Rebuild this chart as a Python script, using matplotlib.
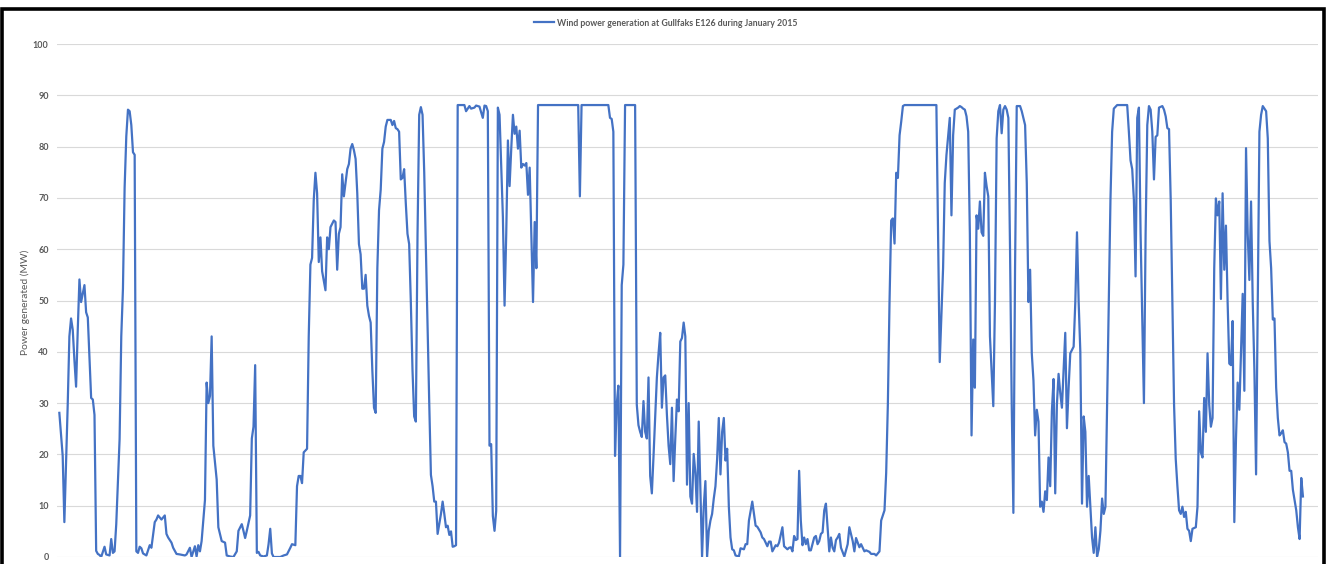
import matplotlib
matplotlib.use("Agg")
import matplotlib.pyplot as plt
from matplotlib.patches import Rectangle

# hour of January 2015 (0 = 1 Jan 00:00) and generated power (MW)
hours = [
    0, 2, 3, 5, 6, 7, 8, 9, 10, 11,
    12, 13, 15, 16, 17, 19, 20, 21, 22, 23,
    24, 25, 27, 28, 30, 31, 32, 33, 34, 36,
    37, 38, 39, 40, 41, 42, 43, 44, 45, 46,
    47, 48, 49, 50, 52, 54, 55, 57, 58, 59,
    61, 63, 64, 65, 67, 68, 70, 72, 75, 76,
    78, 79, 81, 82, 83, 84, 85, 87, 88, 89,
    90, 91, 92, 94, 95, 97, 99, 100, 102, 104,
    106, 107, 109, 110, 111, 112, 114, 115, 116, 117,
    118, 119, 120, 122, 124, 125, 126, 127, 128, 132,
    134, 136, 138, 139, 141, 142, 143, 144, 145, 146,
    148, 149, 150, 151, 152, 153, 154, 155, 156, 157,
    159, 160, 161, 162, 164, 165, 166, 167, 168, 169,
    170, 172, 173, 174, 175, 176, 177, 178, 179, 180,
    181, 182, 183, 184, 185, 186, 187, 188, 189, 190,
    191, 192, 193, 194, 195, 196, 198, 199, 200, 201,
    202, 203, 204, 205, 206, 207, 208, 209, 210, 211,
    212, 213, 214, 215, 216, 217, 218, 219, 220, 221,
    222, 223, 224, 225, 226, 228, 229, 230, 231, 232,
    233, 234, 235, 236, 237, 238, 242, 243, 245, 246,
    248, 249, 251, 253, 254, 255, 256, 257, 258, 259,
    260, 261, 262, 263, 265, 266, 267, 268, 269, 270,
    271, 272, 273, 274, 275, 276, 277, 278, 279, 280,
    281, 282, 283, 284, 285, 286, 310, 311, 312, 328,
    329, 330, 331, 332, 333, 334, 335, 336, 337, 338,
    344, 345, 346, 347, 348, 349, 350, 351, 352, 353,
    354, 355, 357, 358, 359, 360, 361, 362, 363, 364,
    365, 366, 367, 368, 369, 370, 371, 372, 373, 374,
    375, 376, 377, 378, 379, 380, 381, 382, 383, 384,
    385, 386, 387, 388, 389, 390, 391, 392, 393, 394,
    395, 396, 397, 398, 399, 400, 401, 402, 403, 404,
    406, 407, 409, 410, 411, 412, 414, 415, 416, 417,
    419, 420, 421, 423, 424, 425, 426, 428, 429, 430,
    432, 433, 435, 436, 437, 438, 439, 440, 441, 442,
    443, 444, 445, 446, 447, 448, 449, 451, 452, 453,
    454, 455, 456, 457, 458, 459, 460, 461, 462, 463,
    464, 465, 466, 467, 469, 471, 472, 474, 475, 476,
    477, 478, 479, 481, 482, 484, 485, 487, 488, 490,
    491, 493, 494, 495, 496, 497, 498, 499, 500, 501,
    502, 503, 504, 505, 524, 525, 526, 528, 529, 530,
    532, 533, 534, 535, 537, 538, 539, 540, 541, 542,
    543, 544, 545, 546, 547, 548, 549, 550, 551, 552,
    553, 554, 555, 556, 557, 558, 559, 560, 561, 562,
    563, 564, 565, 566, 567, 568, 569, 570, 571, 572,
    574, 575, 577, 578, 579, 580, 581, 582, 583, 584,
    585, 586, 587, 588, 589, 590, 591, 592, 593, 594,
    595, 596, 597, 598, 599, 600, 601, 602, 603, 604,
    606, 607, 608, 609, 610, 611, 612, 613, 614, 615,
    616, 617, 618, 619, 620, 621, 622, 623, 624, 625,
    626, 627, 628, 629, 630, 632, 638, 639, 640, 641,
    642, 643, 644, 645, 646, 647, 648, 649, 650, 651,
    652, 653, 654, 655, 656, 657, 659, 660, 661, 662,
    663, 664, 665, 666, 667, 668, 669, 670, 671, 672,
    673, 674, 675, 676, 677, 679, 680, 681, 682, 683,
    684, 685, 686, 687, 688, 689, 690, 691, 692, 693,
    694, 695, 696, 697, 698, 699, 700, 701, 702, 703,
    704, 705, 706, 707, 708, 709, 710, 711, 712, 713,
    714, 715, 716, 717, 718, 719, 721, 722, 723, 724,
    725, 726, 727, 728, 729, 730, 731, 732, 733, 734,
    735, 736, 737, 739, 740, 741, 742, 743,
]

power_mw = [
    28.1, 19.7, 6.8, 29.7, 43, 46.5, 44.3, 38.4, 33.2, 44.3,
    54.1, 49.7, 53, 47.7, 46.7, 31, 30.7, 27.7, 1.2, 0.6,
    0.4, 0, 2, 0.5, 0.3, 3.5, 0.8, 1.1, 6.4, 23,
    43, 52.3, 72, 82, 87.2, 86.9, 84.2, 78.9, 78.4, 1.1,
    0.8, 2, 1.7, 0.7, 0.3, 2.3, 1.8, 6.8, 7.3, 8.1,
    7.3, 8.1, 4.5, 3.8, 2.8, 1.8, 0.6, 0.5, 0.3, 0.5,
    1.8, 0, 2.1, 0.1, 2.3, 1.1, 3.1, 11.1, 34, 30,
    31.4, 43, 21.7, 15.1, 5.8, 3.1, 2.8, 0.3, 0.1, 0,
    1.1, 5.1, 6.4, 5.1, 3.7, 5.1, 8.1, 23.1, 25.4, 37.4,
    0.8, 1, 0.3, 0.1, 0.3, 2.5, 5.5, 0.7, 0, 0,
    0.3, 0.5, 1.8, 2.5, 2.3, 13.8, 15.8, 15.8, 14.4, 20.4,
    21.1, 43, 57, 58.3, 69.6, 74.9, 70.9, 57.5, 62.3, 55.7,
    52, 62.3, 60, 64.3, 65.6, 65.3, 56, 63, 64.3, 74.6,
    70.3, 75.6, 76.6, 79.6, 80.5, 79.3, 77.6, 70.9, 61, 59,
    52.3, 52.3, 55, 49, 47, 45.7, 36.4, 29.1, 28.1, 56.3,
    67.6, 71.6, 79.6, 80.9, 83.9, 85.2, 85.2, 84.2, 85, 83.6,
    83.4, 82.9, 73.6, 73.9, 75.6, 68.9, 63, 61, 49.7, 36.4,
    27.4, 26.4, 63, 86.2, 87.7, 86.2, 75, 60, 45, 30,
    16, 13.8, 10.8, 10.8, 4.5, 8.4, 10.8, 8.4, 5.8, 6.1,
    4.3, 5, 2, 2.1, 2.3, 88.1, 88.1, 86.9, 87.9, 87.4,
    87.6, 88, 87.8, 85.6, 88, 87.9, 86.9, 21.7, 22, 8,
    5.1, 9, 87.6, 86.2, 66.3, 49, 63, 81.2, 72.3, 79.6,
    86.2, 82.5, 83.9, 79.6, 83.1, 75.9, 76.6, 76.3, 76.8, 70.6,
    75.9, 63, 49.7, 65.3, 56.3, 88.1, 88.1, 70.3, 88.1, 88.1,
    85.6, 85.4, 82.9, 19.7, 29.7, 33.4, 0, 53, 57, 88.1,
    88.1, 29.7, 25.7, 24.4, 23.4, 30.4, 24.4, 23.1, 35, 15.8,
    12.4, 19.7, 35, 39.7, 43.7, 29.1, 35, 35.4, 27.7, 21.7,
    18.1, 29.1, 14.8, 23.1, 30.7, 28.4, 42, 42.7, 45.7, 43,
    14.1, 30, 11.8, 10.4, 20.1, 16.4, 8.8, 26.4, 13.1, 0,
    9.8, 14.8, 0, 5.1, 7.1, 8.4, 11.4, 13.8, 19.1, 27.1,
    16.1, 24.4, 27.1, 18.8, 21.1, 9.8, 3.8, 1.5, 1.3, 0.3,
    0.1, 1.7, 1.5, 2.5, 2.5, 7.1, 10.8, 8.4, 6.1, 5.9,
    4.8, 3.8, 3.5, 2.1, 3, 3, 1.1, 2.3, 2.1, 2.8,
    5.8, 2.1, 1.5, 1.8, 1.9, 1.1, 4.1, 3.3, 3.5, 16.8,
    7.1, 2.3, 3.8, 2.5, 3.5, 1.3, 1.3, 3.8, 4.1, 2.5,
    3.1, 4.5, 4.8, 9.1, 10.4, 5.8, 1.1, 3.8, 1.8, 1.1,
    3.3, 3.8, 4.5, 1.8, 0.1, 2.5, 5.8, 3.1, 1.1, 3.7,
    2.8, 1.9, 2.5, 1.1, 1.3, 1, 0.6, 0.6, 0.3, 1.1,
    7.1, 9.1, 16.4, 29.7, 49.7, 65.6, 66, 61.1, 74.9, 73.9,
    82.2, 84.9, 87.9, 88.1, 88.1, 63, 38, 56.3, 72.9, 78.3,
    85.6, 66.6, 82.2, 87.2, 87.6, 87.9, 87.7, 87.4, 87.2, 85.9,
    82.9, 63, 23.7, 42.4, 33, 66.6, 64, 69.3, 63.3, 62.6,
    74.9, 72.3, 70.3, 43, 36.4, 29.4, 49.7, 81.6, 86.9, 88.1,
    82.6, 87.2, 87.9, 87.2, 85.6, 60, 30, 8.6, 56.3, 87.9,
    87.9, 86.9, 84.2, 72.9, 49.7, 56, 39.7, 34.4, 23.7, 28.7,
    26.4, 9.8, 10.8, 8.8, 12.8, 11.1, 19.4, 13.8, 28.4, 34.7,
    12.4, 29.7, 35.7, 32, 29.1, 36.4, 43.7, 25.1, 33, 39.7,
    41, 49.7, 63.3, 49.7, 40, 10.4, 27.4, 24.4, 9.8, 15.8,
    9.8, 3.8, 0.8, 5.8, 0.1, 1.5, 5.1, 11.4, 8.4, 9.8,
    29.7, 49.7, 69.6, 82.9, 87.4, 88.1, 88.1, 82.9, 77.3, 75.6,
    69.6, 54.7, 85.6, 87.6, 63, 46.3, 30, 63, 84.2, 87.9,
    87.2, 82.9, 73.6, 81.9, 82.2, 87.6, 87.9, 87.2, 85.9, 83.6,
    83.4, 69.6, 49.7, 29.7, 19.1, 13.8, 9.1, 8.4, 9.8, 7.8,
    8.8, 5.5, 5.1, 3.1, 5.5, 5.8, 9.8, 28.4, 20.4, 19.4,
    31, 24.4, 39.7, 29.7, 25.4, 27.1, 56.3, 69.9, 66.6, 69.3,
    50.3, 70.9, 56, 64.6, 49.7, 37.7, 37.4, 46, 6.8, 23.1,
    34, 28.7, 39.7, 51.3, 32.4, 79.7, 63, 54, 69.3, 49.7,
    36.4, 16.1, 49.7, 82.9, 86.2, 87.9, 86.9, 81.6, 61.6, 56.3,
    46.3, 46.5, 33, 27.1, 23.7, 24.1, 24.7, 22.4, 22.1, 20.4,
    16.8, 16.8, 13.1, 9.1, 5.8, 3.5, 15.4, 11.8,
]

series_label = "Wind power generation at Gullfaks E126 during January 2015"
y_label = "Power generated (MW)"
y_ticks = [0, 10, 20, 30, 40, 50, 60, 70, 80, 90, 100]

plt.rcParams["font.family"] = ["Lato", "DejaVu Sans"]
text_grey = "#595959"

fig = plt.figure(figsize=(13.26, 5.64), dpi=100)
ax = fig.add_axes([57 / 1326, 7 / 564, 1261 / 1326, 513 / 564])

line, = ax.plot(hours, power_mw, color="#4472C4", linewidth=1.6,
                solid_joinstyle="round", label=series_label, zorder=3)

ax.set_ylim(0, 100)
ax.set_xlim(-1.4, 752)
ax.set_yticks(y_ticks)
ax.set_xticks([])
ax.yaxis.grid(True, color="#D9D9D9", linewidth=0.8)
ax.set_axisbelow(True)
for s in ax.spines.values():
    s.set_visible(False)
ax.tick_params(axis="y", length=0, pad=6, labelsize=6.5, labelcolor=text_grey)
for t in ax.get_yticklabels():
    t.set_fontweight("bold")
ax.set_ylabel(y_label, fontsize=7.4, color=text_grey)
ax.yaxis.set_label_coords(-0.0214, 0.497)

fig.legend(handles=[line], loc="center", bbox_to_anchor=(666 / 1326, 1 - 23 / 564),
           frameon=False, handlelength=2.2, handletextpad=0.4,
           labelcolor=text_grey, prop={"weight": "bold", "size": 6.3})

# black frame around the chart (bottom edge is cut off)
fig.patches.append(Rectangle((2 / 1326, -0.05), 1322 / 1326, 1.05 - 8.5 / 564,
                             transform=fig.transFigure, fill=False,
                             edgecolor="black", linewidth=2.6, zorder=10))

fig.savefig("out.png", dpi=100, facecolor="white")
